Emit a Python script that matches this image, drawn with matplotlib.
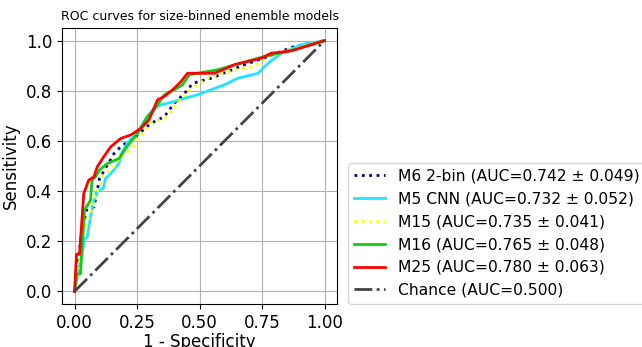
import matplotlib
matplotlib.use('Agg')
import matplotlib.pyplot as plt

# ROC points (1 - specificity, sensitivity)
m6_fpr = [0, 0.03, 0.05, 0.078, 0.091, 0.10, 0.158, 0.185, 0.252, 0.305, 0.359, 0.399, 0.44, 0.473, 0.546, 0.613, 0.68, 0.774, 0.88, 1.0]
m6_tpr = [0, 0.25, 0.33, 0.337, 0.404, 0.45, 0.55, 0.577, 0.624, 0.67, 0.697, 0.75, 0.79, 0.83, 0.85, 0.877, 0.904, 0.937, 0.977, 1.0]

m5_fpr = [0, 0.02, 0.04, 0.051, 0.064, 0.078, 0.094, 0.115, 0.124, 0.145, 0.178, 0.185, 0.21, 0.25, 0.29, 0.318, 0.345, 0.399, 0.44, 0.493, 0.546, 0.6, 0.653, 0.734, 0.774, 0.827, 0.907, 1.0]
m5_tpr = [0, 0.1, 0.21, 0.217, 0.297, 0.364, 0.404, 0.41, 0.45, 0.47, 0.51, 0.544, 0.59, 0.63, 0.697, 0.73, 0.744, 0.757, 0.77, 0.784, 0.804, 0.824, 0.85, 0.87, 0.91, 0.95, 0.984, 1.0]

m15_fpr = [0, 0.02, 0.037, 0.064, 0.084, 0.1, 0.115, 0.158, 0.185, 0.225, 0.265, 0.305, 0.372, 0.412, 0.44, 0.493, 0.546, 0.64, 0.72, 0.774, 0.867, 1.0]
m15_tpr = [0, 0.12, 0.244, 0.31, 0.384, 0.417, 0.464, 0.497, 0.537, 0.564, 0.617, 0.67, 0.697, 0.75, 0.784, 0.824, 0.857, 0.884, 0.897, 0.937, 0.964, 1.0]

m16_fpr = [0, 0.01, 0.024, 0.04, 0.064, 0.07, 0.084, 0.10, 0.131, 0.178, 0.205, 0.252, 0.292, 0.318, 0.359, 0.399, 0.432, 0.459, 0.573, 0.667, 0.76, 0.88, 1.0]
m16_tpr = [0, 0.07, 0.07, 0.324, 0.364, 0.444, 0.457, 0.484, 0.51, 0.53, 0.571, 0.63, 0.697, 0.724, 0.784, 0.804, 0.824, 0.864, 0.884, 0.911, 0.937, 0.964, 1.0]

m25_fpr = [0, 0.008, 0.02, 0.037, 0.057, 0.078, 0.091, 0.117, 0.145, 0.185, 0.225, 0.265, 0.298, 0.332, 0.359, 0.399, 0.426, 0.452, 0.56, 0.64, 0.747, 0.787, 0.854, 0.88, 0.948, 1.0]
m25_tpr = [0, 0.148, 0.148, 0.39, 0.444, 0.457, 0.497, 0.537, 0.577, 0.61, 0.624, 0.65, 0.684, 0.764, 0.777, 0.81, 0.837, 0.87, 0.87, 0.904, 0.93, 0.95, 0.957, 0.963, 0.984, 1.0]

chance = [0, 1]

fig = plt.figure(figsize=(6.42, 3.47), dpi=100)
ax = fig.add_axes([0.0966, 0.124, 0.4284, 0.795])

ax.plot(m6_fpr, m6_tpr, color='navy', linestyle=':', lw=2,
        label='M6 2-bin (AUC=0.742 ± 0.049)')
ax.plot(m5_fpr, m5_tpr, color='#1ee6ff', lw=2,
        label='M5 CNN (AUC=0.732 ± 0.052)')
ax.plot(m15_fpr, m15_tpr, color='yellow', linestyle=':', lw=2,
        label='M15 (AUC=0.735 ± 0.041)')
ax.plot(m16_fpr, m16_tpr, color='#11cc11', lw=2,
        label='M16 (AUC=0.765 ± 0.048)')
ax.plot(m25_fpr, m25_tpr, color='red', lw=2,
        label='M25 (AUC=0.780 ± 0.063)')
ax.plot(chance, chance, color='#444444', linestyle='-.', lw=2,
        label='Chance (AUC=0.500)')

ax.set_title('ROC curves for size-binned enemble models', fontsize=9)
ax.set_xlabel('1 - Specificity', fontsize=12, labelpad=1)
ax.set_ylabel('Sensitivity', fontsize=12)
ax.set_xticks([0, 0.25, 0.5, 0.75, 1.0])
ax.set_yticks([0, 0.2, 0.4, 0.6, 0.8, 1.0])
ax.tick_params(labelsize=12)
ax.grid(True, color='#b0b0b0')
ax.legend(loc='lower left', bbox_to_anchor=(1.04, 0), borderaxespad=0, fontsize=11.2)

fig.savefig('out.png', dpi=100)
